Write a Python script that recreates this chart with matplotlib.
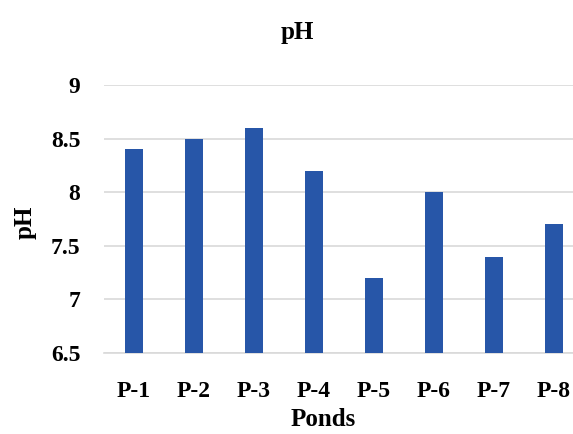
import matplotlib
matplotlib.use("Agg")
import matplotlib.pyplot as plt

# pH readings per pond
ponds = ["P-1", "P-2", "P-3", "P-4", "P-5", "P-6", "P-7", "P-8"]
ph_values = [8.4, 8.5, 8.6, 8.2, 7.2, 8.0, 7.4, 7.7]
y_ticks = [6.5, 7, 7.5, 8, 8.5, 9]
y_tick_labels = ["6.5", "7", "7.5", "8", "8.5", "9"]

plt.rcParams["font.family"] = ["Liberation Serif", "DejaVu Serif"]
plt.rcParams["font.weight"] = "bold"

W, H = 573, 434
fig = plt.figure(figsize=(W / 100, H / 100), dpi=100)
# plot area runs a little past the right edge of the figure
ax = fig.add_axes([104 / W, (H - 353) / H, (W - 104) / W, (353 - 85) / H])

x = list(range(len(ponds)))
ax.bar(x, [v - 6.5 for v in ph_values], bottom=6.5, width=0.3,
       color="#2756a8", zorder=3)

ax.set_xlim(-0.5, (W - 104) / 60 - 0.5)
ax.set_ylim(6.5, 9)
ax.set_yticks(y_ticks)
ax.set_yticklabels(y_tick_labels)
ax.set_xticks(x)
ax.set_xticklabels(ponds)
ax.tick_params(axis="y", length=0, pad=17, labelsize=17)
ax.tick_params(axis="x", length=0, pad=20, labelsize=17)

ax.grid(axis="y", color="#d9d9d9", linewidth=1.2, zorder=0)
for side in ["left", "right", "top"]:
    ax.spines[side].set_visible(False)
ax.spines["bottom"].set_color("#d9d9d9")
ax.spines["bottom"].set_linewidth(1.2)

fig.text(297 / W, 1 - 33 / H, "pH", ha="center", va="center",
         fontsize=18, fontweight="bold")
fig.text(25 / W, 1 - 222 / H, "pH", ha="center", va="center",
         rotation=90, fontsize=18, fontweight="bold")
fig.text(323 / W, 1 - 419 / H, "Ponds", ha="center", va="center",
         fontsize=18, fontweight="bold")

fig.savefig("out.png", dpi=100)
